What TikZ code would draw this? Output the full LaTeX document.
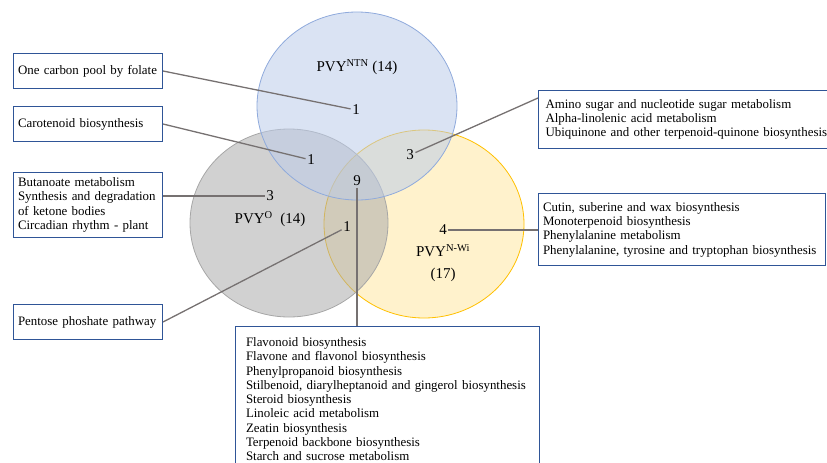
\documentclass[tikz,border=0pt]{standalone}
\usepackage{fontspec}
\setmainfont{Liberation Serif}
\definecolor{ntnfill}{RGB}{188,204,233}
\definecolor{ntnline}{RGB}{143,170,220}
\definecolor{ofill}{RGB}{172,172,172}
\definecolor{oline}{RGB}{166,166,166}
\definecolor{nwifill}{RGB}{255,231,162}
\definecolor{nwiline}{RGB}{255,192,0}
\definecolor{boxblue}{RGB}{47,85,151}
\definecolor{linkgray}{RGB}{118,113,113}
\tikzset{
  pathbox/.style={draw=boxblue, line width=1pt, fill=white, align=left, anchor=north west,
    inner xsep=4.5pt, inner ysep=4pt, font=\fontsize{12.9}{14.3}\selectfont},
  count/.style={font=\fontsize{15}{16}\selectfont, inner sep=1.5pt},
  setlabel/.style={font=\fontsize{15}{16}\selectfont, inner sep=1pt},
  link/.style={draw=linkgray, line width=1.3pt},
  venn/.style={line width=0.8pt, fill opacity=0.55},
}
\begin{document}
\begin{tikzpicture}[x=1pt, y=-1pt]
  \useasboundingbox (0,0) rectangle (827,463);

  % three sets
  \draw[venn, draw=nwiline, fill=nwifill] (424,224) ellipse [x radius=100pt, y radius=94pt];
  \draw[venn, draw=oline, fill=ofill] (289,223) ellipse [x radius=99pt, y radius=94pt];
  \draw[venn, draw=ntnline, fill=ntnfill] (357,106) ellipse [x radius=100pt, y radius=94pt];

  % set names
  \node[setlabel] (lntn) at (357,67) {PVY\textsuperscript{NTN} (14)};
  \node[setlabel] (lo) at (270,219) {PVY\textsuperscript{O}\ \ (14)};
  \node[setlabel] (lnwi) at (443,251) {PVY\textsuperscript{N-Wi}};
  \node[setlabel] (lnwicount) at (443,275) {(17)};

  % counts
  \node[count] (n1a) at (356,110) {1};
  \node[count] (n1b) at (311,160) {1};
  \node[count] (n3b) at (410,155) {3};
  \node[count] (n9) at (357,181) {9};
  \node[count] (n3o) at (270,196) {3};
  \node[count] (n1c) at (347,227) {1};
  \node[count] (n4) at (443,230) {4};

  % pathway boxes
  \node[pathbox, text width=140pt, minimum height=35pt] (folate) at (13,53) {One carbon pool by folate};
  \node[pathbox, text width=140pt, minimum height=35pt] (carot) at (13,106) {Carotenoid biosynthesis};
  \node[pathbox, text width=140pt, minimum height=65pt] (butan) at (13,172)
    {Butanoate metabolism\\Synthesis and degradation\\of ketone bodies\\Circadian rhythm - plant};
  \node[pathbox, text width=140pt, minimum height=35pt] (pentose) at (13,304) {Pentose phoshate pathway};
  \node[pathbox, text width=300pt, minimum height=58pt, inner xsep=7pt] (amino) at (538,90)
    {Amino sugar and nucleotide sugar metabolism\\Alpha-linolenic acid metabolism\\Ubiquinone and other terpenoid-quinone biosynthesis};
  \node[pathbox, text width=278pt, minimum height=72pt] (cutin) at (538,193)
    {Cutin, suberine and wax biosynthesis\\Monoterpenoid biosynthesis\\Phenylalanine metabolism\\Phenylalanine, tyrosine and tryptophan biosynthesis};
  \node[pathbox, text width=283pt, inner xsep=10.5pt, inner ysep=11pt] (flav) at (235,326)
    {Flavonoid biosynthesis\\Flavone and flavonol biosynthesis\\Phenylpropanoid biosynthesis\\Stilbenoid, diarylheptanoid and gingerol biosynthesis\\Steroid biosynthesis\\Linoleic acid metabolism\\Zeatin biosynthesis\\Terpenoid backbone biosynthesis\\Starch and sucrose metabolism\\};

  % connectors
  \draw[link] (folate.east) -- (n1a);
  \draw[link] (carot.east) -- (n1b);
  \draw[link] (n3o) -- (n3o -| butan.east);
  \draw[link] (pentose.east) -- (n1c);
  \draw[link] (n3b) -- ([yshift=-8pt]amino.north west);
  \draw[link] (n4) -- (n4 -| cutin.west);
  \draw[link] (n9) -- (n9 |- flav.north);
\end{tikzpicture}
\end{document}
